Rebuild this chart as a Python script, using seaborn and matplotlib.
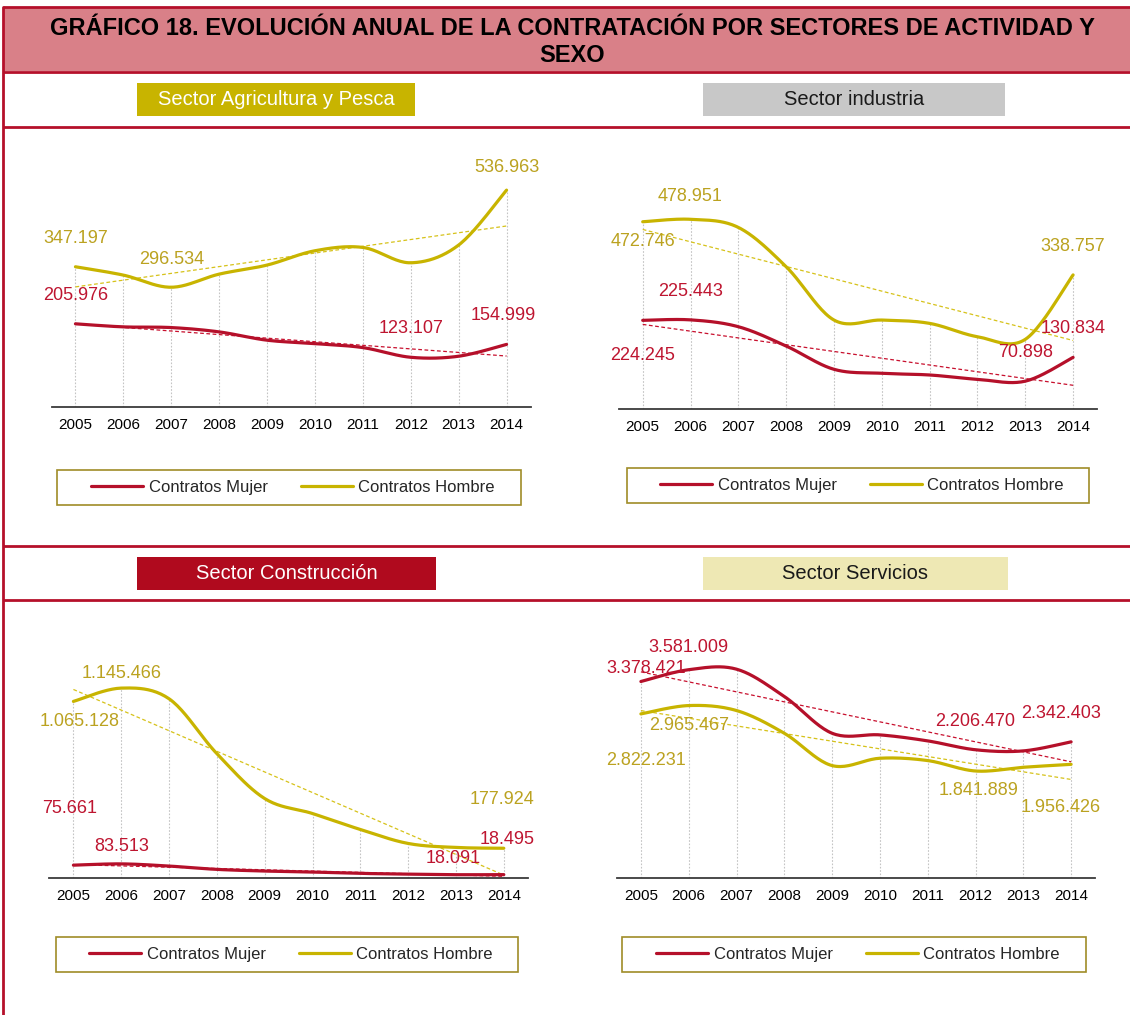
import numpy as np
import pandas as pd
import seaborn as sns
import matplotlib.pyplot as plt
from matplotlib.patches import Rectangle
from matplotlib.lines import Line2D

sns.set_theme(style="white")
plt.rcParams['font.family'] = ['Liberation Sans', 'DejaVu Sans']

years = [2005, 2006, 2007, 2008, 2009, 2010, 2011, 2012, 2013, 2014]

agri_mujer = [205976, 198400, 196700, 186000, 165400, 157000, 147100, 123107, 125700, 154999]
agri_hombre = [347197, 326600, 296534, 329000, 351400, 386900, 395100, 357100, 401000, 536963]
ind_mujer = [224245, 225443, 208200, 159500, 100800, 90700, 86500, 75600, 70898, 130834]
ind_hombre = [472746, 478951, 458500, 359400, 225000, 225000, 216600, 183000, 176300, 338757]
cons_mujer = [75661, 83513, 70300, 50200, 40200, 34100, 26100, 21500, 18091, 18495]
cons_hombre = [1065128, 1145466, 1081000, 749500, 478200, 387700, 291300, 206900, 182800, 177924]
serv_mujer = [3378421, 3581009, 3590000, 3121000, 2490000, 2462000, 2359000, 2206470, 2187000, 2342403]
serv_hombre = [2822231, 2965467, 2880000, 2490000, 1935000, 2061000, 2021000, 1841889, 1906000, 1956426]

sectores = ["Sector Agricultura y Pesca", "Sector industria", "Sector Construcción", "Sector Servicios"]
series_names = ["Contratos Mujer", "Contratos Hombre"]

RED = "#B5102A"
GOLD = "#C8B400"
RED_TXT = "#BE1530"
GOLD_TXT = "#BBA220"

W, H = 1130, 1015
fig = plt.figure(figsize=(W / 100, H / 100), dpi=100, facecolor="white")

# background layer in pixel coordinates
bg = fig.add_axes([0, 0, 1, 1])
bg.set_xlim(0, W)
bg.set_ylim(H, 0)
bg.axis("off")

bg.add_patch(Rectangle((3, 7), W, 64, facecolor="#D98088", edgecolor="none"))
for y in [7, 71.5, 127, 546, 600]:
    bg.plot([3, W], [y, y], color=RED, lw=2, solid_capstyle="butt")
bg.plot([3, 3], [7, H], color=RED, lw=2)
bg.text(573, 28, "GRÁFICO 18. EVOLUCIÓN ANUAL DE LA CONTRATACIÓN POR SECTORES DE ACTIVIDAD Y",
        ha="center", va="center", fontsize=17, fontweight="bold", color="black")
bg.text(572, 55, "SEXO", ha="center", va="center", fontsize=17, fontweight="bold", color="black")


def smooth(x, y, n=24):
    # Excel-like smoothed line (Bezier through the points)
    pts = np.column_stack([x, y]).astype(float)
    P = np.vstack([pts[0], pts, pts[-1]])
    out = []
    for i in range(1, len(P) - 2):
        p0, p1, p2, p3 = P[i - 1], P[i], P[i + 1], P[i + 2]
        c1 = p1 + (p2 - p0) / 6
        c2 = p2 - (p3 - p1) / 6
        t = np.linspace(0, 1, n)[:, None]
        seg = (1 - t) ** 3 * p1 + 3 * (1 - t) ** 2 * t * c1 + 3 * (1 - t) * t ** 2 * c2 + t ** 3 * p2
        out.append(seg if i == 1 else seg[1:])
    return np.vstack(out)


def fmt(v):
    return f"{v:,}".replace(",", ".")


panels = [
    dict(title=sectores[0], box=(137, 83, 415, 116), fc="#C8B400", tc="white",
         mujer=agri_mujer, hombre=agri_hombre, ax=(51.5, 166.7, 530.5, 407), ymax=595000,
         legend=(57, 470, 521, 505),
         labels=[("h", 2005, 0, -28), ("h", 2007, 0, -28), ("h", 2014, 0, -23),
                 ("m", 2005, 0, -28), ("m", 2012, 0, -29), ("m", 2014, -3, -29)]),
    dict(title=sectores[1], box=(703, 83, 1005, 116), fc="#C8C8C8", tc="#1a1a1a",
         mujer=ind_mujer, hombre=ind_hombre, ax=(618.8, 169.3, 1097, 409.3), ymax=605000,
         legend=(627, 468, 1089, 503),
         labels=[("h", 2005, 0, 20), ("h", 2006, 0, -23), ("h", 2014, 0, -28),
                 ("m", 2005, 0, 35), ("m", 2006, 0, -28), ("m", 2013, 0, -29), ("m", 2014, 0, -29)]),
    dict(title=sectores[2], box=(137, 557, 436, 590), fc="#B00A1E", tc="white",
         mujer=cons_mujer, hombre=cons_hombre, ax=(49.5, 637.7, 527.7, 877.7), ymax=1450000,
         legend=(56, 937, 518, 972),
         labels=[("h", 2005, 6, 20), ("h", 2006, 0, -15), ("h", 2014, -2, -49),
                 ("m", 2005, -4, -57), ("m", 2006, 0, -17), ("m", 2013, -3, -16), ("m", 2014, 3, -35)]),
    dict(title=sectores[3], box=(703, 557, 1008, 590), fc="#EEE8B4", tc="#1a1a1a",
         mujer=serv_mujer, hombre=serv_hombre, ax=(617, 638.3, 1095, 878.3), ymax=4120000,
         legend=(622, 937, 1086, 972),
         labels=[("m", 2005, 5, -13), ("m", 2006, 0, -22), ("m", 2012, 0, -28), ("m", 2014, -10, -28),
                 ("h", 2005, 5, 47), ("h", 2006, 0, 20), ("h", 2012, 3, 19), ("h", 2014, -10, 43)]),
]

idx = np.arange(len(years))

for p in panels:
    x0, y0, x1, y1 = p["box"]
    bg.add_patch(Rectangle((x0, y0), x1 - x0, y1 - y0, facecolor=p["fc"], edgecolor="none"))
    bg.text((x0 + x1) / 2, (y0 + y1) / 2, p["title"], ha="center", va="center",
            fontsize=14.5, color=p["tc"])

    l, t, r, b = p["ax"]
    ax = fig.add_axes([l / W, 1 - b / H, (r - l) / W, (b - t) / H])
    ax.patch.set_visible(False)

    df = pd.DataFrame({"year": years, "Mujer": p["mujer"], "Hombre": p["hombre"]})

    # drop lines
    ax.vlines(idx, 0, df[["Mujer", "Hombre"]].max(axis=1), color="#C4C4C4", lw=0.8,
              linestyles=(0, (1.5, 1.5)), zorder=1)

    for col, c, tc in [("Hombre", GOLD, "#D6C21A"), ("Mujer", RED, "#C8102E")]:
        curve = smooth(idx, df[col].values)
        sns.lineplot(x=curve[:, 0], y=curve[:, 1], ax=ax, color=c, linewidth=2.3,
                     estimator=None, sort=False, legend=False, zorder=3)
        k, q = np.polyfit(idx, df[col].values, 1)
        ax.plot(idx[[0, -1]], k * idx[[0, -1]] + q, color=tc, lw=0.9,
                linestyle=(0, (3, 2)), zorder=2)

    for s, yr, dx, dy in p["labels"]:
        col = "Mujer" if s == "m" else "Hombre"
        i = years.index(yr)
        v = df[col].iloc[i]
        ax.annotate(fmt(v), xy=(i, v), xytext=(dx * 0.72, -dy * 0.72), textcoords="offset points",
                    ha="center", va="center", fontsize=13,
                    color=RED_TXT if s == "m" else GOLD_TXT, annotation_clip=False, zorder=5)

    ax.set_xlim(-0.5, len(years) - 0.5)
    ax.set_ylim(0, p["ymax"])
    ax.set_xticks(idx)
    ax.set_xticklabels([str(y) for y in years], fontsize=11, color="black")
    ax.tick_params(axis="x", length=0, pad=8)
    ax.set_yticks([])
    ax.set_xlabel("")
    ax.set_ylabel("")
    for side in ["top", "left", "right"]:
        ax.spines[side].set_visible(False)
    ax.spines["bottom"].set_color("#3a3a3a")
    ax.spines["bottom"].set_linewidth(1.3)

    # legend with its own frame
    lx0, ly0, lx1, ly1 = p["legend"]
    bg.add_patch(Rectangle((lx0, ly0), lx1 - lx0, ly1 - ly0, facecolor="white",
                           edgecolor="#A08C28", lw=1.2))
    handles = [Line2D([0], [0], color=RED, lw=2.3), Line2D([0], [0], color=GOLD, lw=2.3)]
    ax.legend(handles, series_names, loc="center",
              bbox_to_anchor=(((lx0 + lx1) / 2 + 4) / W, 1 - ((ly0 + ly1) / 2) / H),
              bbox_transform=fig.transFigure, ncol=2, frameon=False, fontsize=12,
              handlelength=3.1, handletextpad=0.35, columnspacing=2.0, borderaxespad=0)

fig.savefig("out.png", dpi=100, facecolor="white")
